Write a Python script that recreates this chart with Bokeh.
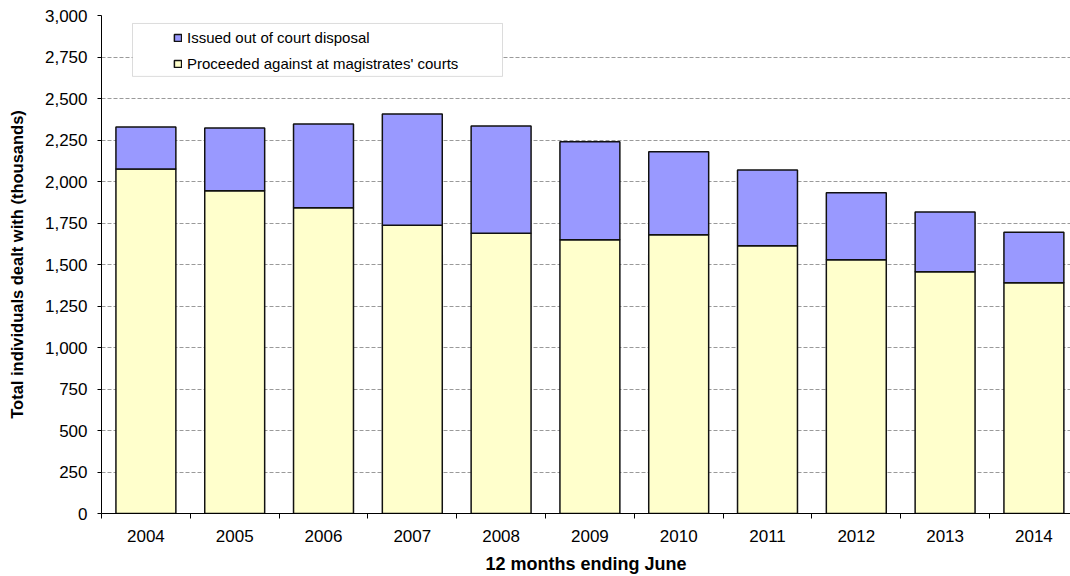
from bokeh.plotting import figure
from bokeh.models import (FixedTicker, NumeralTickFormatter, Legend, LegendItem,
                          BoxAnnotation, Range1d)
from bokeh.embed import file_html
from bokeh.resources import INLINE

# ---- data (thousands) ----
years = [2004, 2005, 2006, 2007, 2008, 2009, 2010, 2011, 2012, 2013, 2014]
year_labels = ["2004", "2005", "2006", "2007", "2008", "2009", "2010",
               "2011", "2012", "2013", "2014"]
proceeded = [2075, 1944, 1842, 1737, 1689, 1649, 1679, 1613, 1528, 1456, 1390]
issued_total = [2329, 2322, 2346, 2406, 2334, 2239, 2179, 2069, 1932, 1817, 1695]
out_of_court = [t - p for t, p in zip(issued_total, proceeded)]
y_ticks = list(range(0, 3001, 250))

series_names = ["Issued out of court disposal",
                "Proceeded against at magistrates' courts"]

FONT = "Liberation Sans"

W, H = 1070, 576
BL, BR, BT, BB = 101, 0, 15, 62
frame_w = W - BL - BR
frame_h = H - BT - BB
cat_px = 88.8
x0 = years[0] - 0.5
x1 = x0 + frame_w / cat_px
y0, y1 = 0, 3000

p = figure(width=W, height=H, output_backend="svg", toolbar_location=None,
           x_range=Range1d(x0, x1), y_range=Range1d(y0, y1),
           min_border_left=BL, min_border_right=BR, min_border_top=BT,
           min_border_bottom=BB)
p.outline_line_color = None
p.background_fill_color = "white"
p.border_fill_color = "white"

data = dict(year=years, proceeded=proceeded, issued=out_of_court)
rs = p.vbar_stack(["proceeded", "issued"], x="year", width=0.675, source=data,
                  fill_color=["#FFFFCC", "#9999FF"], line_color="#111111",
                  line_width=1.5)

# grid
p.xgrid.grid_line_color = None
p.ygrid.ticker = FixedTicker(ticks=y_ticks)
p.ygrid.grid_line_color = "#9a9a9a"
p.ygrid.grid_line_dash = "4 2"
p.ygrid.grid_line_width = 1

# x axis
xa = p.xaxis[0]
xa.ticker = FixedTicker(ticks=years,
                        minor_ticks=[y - 0.5 for y in years] + [years[-1] + 0.5])
xa.major_label_overrides = {y: s for y, s in zip(years, year_labels)}
xa.major_tick_out = 0
xa.major_tick_in = 0
xa.minor_tick_out = 5
xa.minor_tick_in = 0
xa.minor_tick_line_color = "black"
xa.axis_line_color = "black"
xa.major_label_text_font = FONT
xa.major_label_text_font_size = "17px"
xa.major_label_text_color = "black"
xa.major_label_standoff = 11
xa.axis_label = "12 months ending June"
xa.axis_label_text_font = FONT
xa.axis_label_text_font_size = "18px"
xa.axis_label_text_font_style = "bold"
xa.axis_label_text_color = "black"
xa.axis_label_standoff = 9

# y axis
ya = p.yaxis[0]
ya.ticker = FixedTicker(ticks=y_ticks)
ya.formatter = NumeralTickFormatter(format="0,0")
ya.major_tick_out = 4
ya.major_tick_in = 0
ya.minor_tick_line_color = None
ya.axis_line_color = "black"
ya.major_tick_line_color = "black"
ya.major_label_text_font = FONT
ya.major_label_text_font_size = "17px"
ya.major_label_text_color = "black"
ya.major_label_standoff = 10
ya.axis_label = "Total individuals dealt with (thousands)"
ya.axis_label_text_font = FONT
ya.axis_label_text_font_size = "16.5px"
ya.axis_label_text_font_style = "bold"
ya.axis_label_text_color = "black"
ya.axis_label_standoff = 16

# legend box (page pixel positions converted to data coords)
def px_to_x(px):
    return x0 + (px - BL) / cat_px

def py_to_y(py):
    return y1 - (py - BT) / frame_h * (y1 - y0)

box = BoxAnnotation(left=px_to_x(132), right=px_to_x(502),
                    top=py_to_y(23), bottom=py_to_y(76),
                    fill_color="white", fill_alpha=1.0,
                    line_color="#8c8c8c", line_width=1)
p.add_layout(box)

legend = Legend(items=[LegendItem(label=series_names[0], renderers=[rs[1]]),
                       LegendItem(label=series_names[1], renderers=[rs[0]])],
                location=(72, frame_h - 13 - 46))
legend.padding = 0
legend.margin = 0
legend.border_line_color = None
legend.background_fill_alpha = 0
legend.glyph_width = 9
legend.glyph_height = 9
legend.label_height = 20
legend.spacing = 6
legend.label_standoff = 5
legend.label_text_font = FONT
legend.label_text_font_size = "15px"
legend.label_text_color = "black"
p.add_layout(legend, "center")

open("out.html", "w").write(file_html(p, INLINE))
